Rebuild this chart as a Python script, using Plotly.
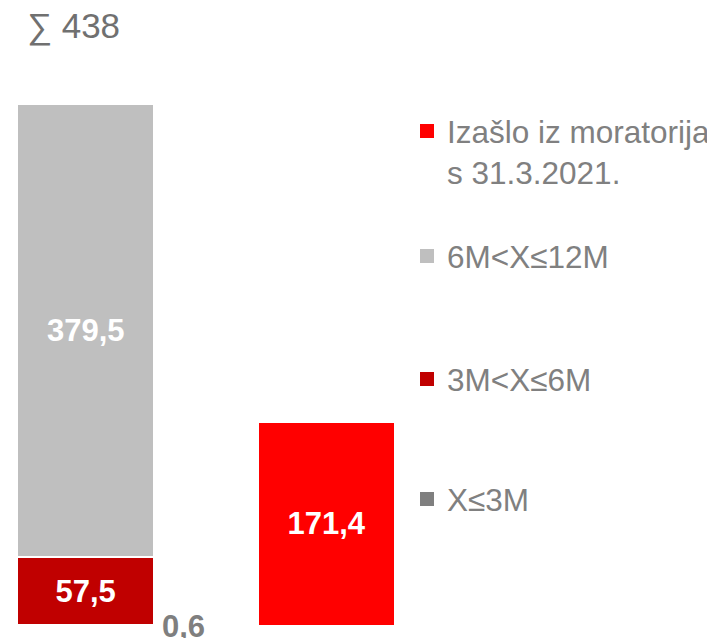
import plotly.graph_objects as go

categories = ["31.3.2021. moratorij", "Izašlo"]
series_names = ["X≤3M", "3M<X≤6M", "6M<X≤12M", "Izašlo iz moratorija<br>s 31.3.2021."]
series_values = [
    [0.6, None],
    [57.5, None],
    [379.5, None],
    [None, 171.4],
]
series_colors = ["#7F7F7F", "#C00000", "#BFBFBF", "#FF0000"]

FONT = "Liberation Sans, Arial, sans-serif"
W, H = 715, 638
OFF = 8  # page body margin


def fmt(v):
    return f"{v:.1f}".replace(".", ",")


fig = go.Figure()
for i, (name, vals, col) in enumerate(zip(series_names, series_values, series_colors)):
    texts = [fmt(v) if v is not None else "" for v in vals]
    fig.add_trace(go.Bar(
        x=categories, y=vals, name=name,
        marker=dict(color=col, line=dict(color="white", width=2)),
        text=texts,
        texttemplate="%{text}",
        textposition="none" if i == 0 else "inside",
        insidetextanchor="middle",
        textfont=dict(family=FONT, size=31, color="white", weight="bold"),
        constraintext="none",
        width=0.568,
        showlegend=False,
        hoverinfo="skip",
    ))

legend_ids = ["legend4", "legend3", "legend2", "legend"]
for name, col, lg in zip(series_names, series_colors, legend_ids):
    fig.add_trace(go.Scatter(
        x=[None], y=[None], mode="markers", name=name,
        marker=dict(symbol="square", size=14, color=col),
        legend=lg, showlegend=True, hoverinfo="skip",
    ))

fig.add_annotation(
    x=categories[0], y=0, text=f"<b>{fmt(series_values[0][0])}</b>",
    xref="x", yref="y", xanchor="left", yanchor="middle",
    xshift=74, showarrow=False,
    font=dict(family=FONT, size=31, color="#7F7F7F"),
)

total = sum(v[0] for v in series_values[:3])
fig.add_annotation(
    x=(25 - OFF) / W, y=1 - 18 / H, xref="paper", yref="paper",
    xanchor="left", yanchor="middle", showarrow=False,
    text=f"∑ {round(total)}",
    font=dict(family=FONT, size=35, color="#707070"),
)

leg_common = dict(
    xanchor="left", yanchor="middle", bgcolor="rgba(0,0,0,0)",
    font=dict(family=FONT, size=31.5, color="#808080"), valign="top",
)
lx = (407 - OFF) / W
fig.update_layout(
    width=W, height=H,
    margin=dict(l=0, r=0, t=0, b=0),
    paper_bgcolor="white", plot_bgcolor="white",
    barmode="stack",
    xaxis=dict(visible=False, range=[-0.3224, 2.6444], type="category"),
    yaxis=dict(visible=False, range=[-16.78, 518.4]),
    legend=dict(x=lx, y=1 - (154.5 - 11) / H, **leg_common),
    legend2=dict(x=lx, y=1 - (258 - 10) / H, **leg_common),
    legend3=dict(x=lx, y=1 - (381 - 10) / H, **leg_common),
    legend4=dict(x=lx, y=1 - (500 - 9) / H, **leg_common),
)

fig.write_html("out.html")
